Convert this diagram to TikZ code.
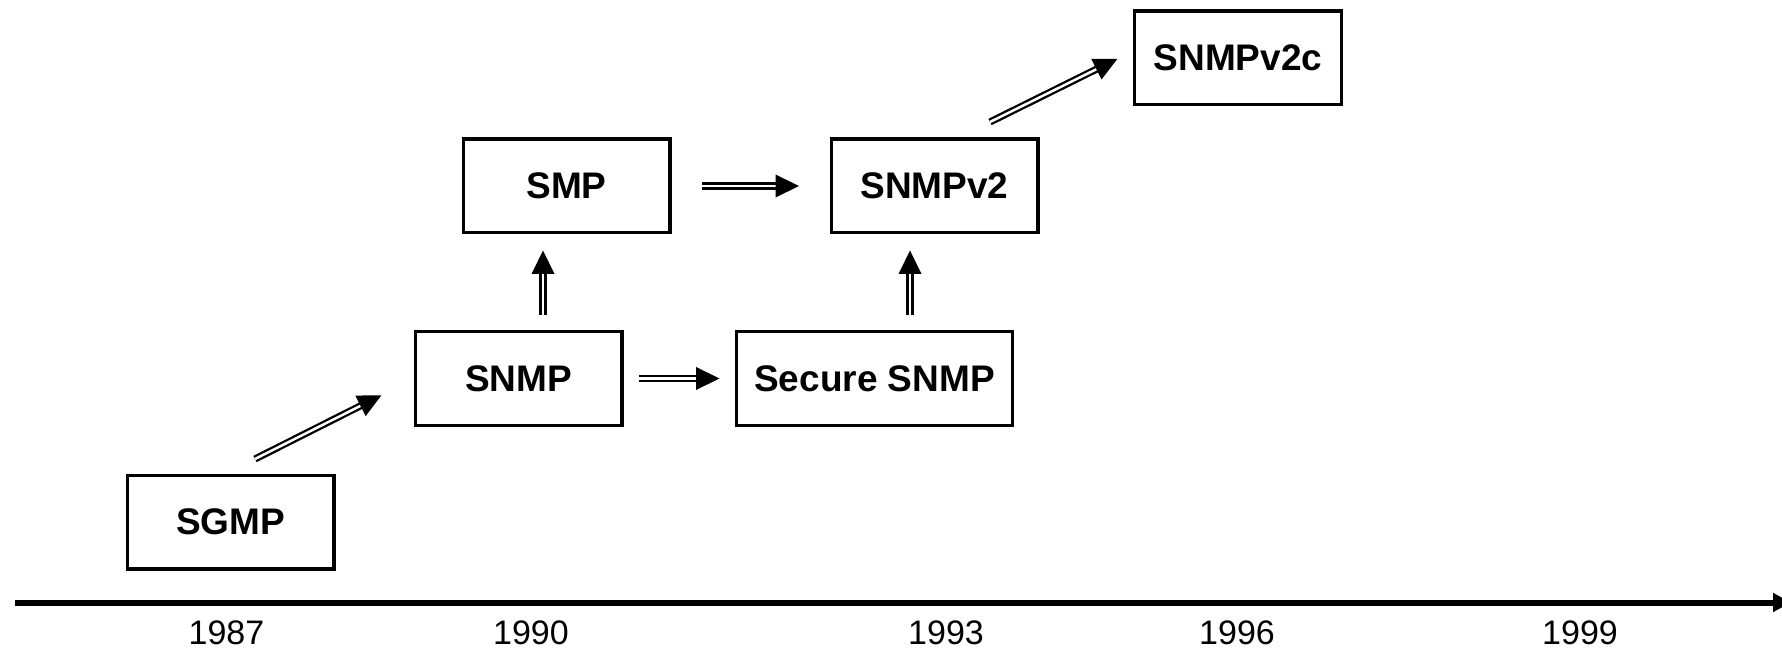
\documentclass[tikz,border=0pt]{standalone}
\usepackage{fontspec}
\setmainfont{Liberation Sans}
\usetikzlibrary{arrows.meta,decorations.markings}
\begin{document}
\begin{tikzpicture}[x=1pt,y=1pt,
  box/.style={draw, line width=3.4pt, minimum width=206.6pt, minimum height=93.6pt,
    inner sep=0pt, font=\fontsize{37}{40}\selectfont\bfseries},
  year/.style={inner sep=0pt, font=\fontsize{34}{40}\selectfont},
  evolves/.style={double, double distance=2.5pt, line width=2.3pt, shorten >=21pt,
    postaction={decorate, decoration={markings,
      mark=at position 1 with {\fill[shorten >=0pt] (0.5pt,0) -- (-23pt,11.5pt) -- (-23pt,-11.5pt) -- cycle;}}}},
  timeline/.style={line width=6pt, -{Triangle[length=18pt,width=18pt]}},
]
\useasboundingbox (0,0) rectangle (1782,651);

% protocol boxes
\node[box] (sgmp)    at (230.5,129)   {SGMP};
\node[box] (snmp)    at (518.5,272.5) {SNMP};
\node[box, minimum width=275.6pt] (secure) at (874.5,272.5) {Secure SNMP};
\node[box] (smp)     at (566.5,465)   {SMP};
\node[box] (snmpv2)  at (934.5,465)   {SNMPv2};
\node[box] (snmpv2c) at (1238,593)    {SNMPv2c};

% lineage arrows
\draw[evolves] ([shift={(24.5,14.5)}]sgmp.north) -- ([shift={(-32.5,-17)}]snmp.west);
\draw[evolves] ([shift={(24.5,15)}]snmp.north) -- ([shift={(-23.5,-16.5)}]smp.south);
\draw[evolves] ([shift={(15.5,0)}]snmp.east) -- ([shift={(-16,0)}]secure.west);
\draw[evolves] ([shift={(30.5,0)}]smp.east) -- ([shift={(-31,0)}]snmpv2.west);
\draw[evolves] ([shift={(35.5,15)}]secure.north) -- ([shift={(-24.5,-16.5)}]snmpv2.south);
\draw[evolves] ([shift={(55.5,15.5)}]snmpv2.north) -- ([shift={(-16,-1)}]snmpv2c.west);

% time axis
\coordinate (axstart) at (14.5,48.5);
\coordinate (axend) at (1791,48.5);
\draw[timeline] (axstart) -- (axend);

\node[year] (y1987) at (226.5,18) {1987};
\node[year] (y1990) at (531,18)   {1990};
\node[year] (y1993) at (946,18)   {1993};
\node[year] (y1996) at (1237,18)  {1996};
\node[year] (y1999) at (1580,18)  {1999};
\end{tikzpicture}
\end{document}
